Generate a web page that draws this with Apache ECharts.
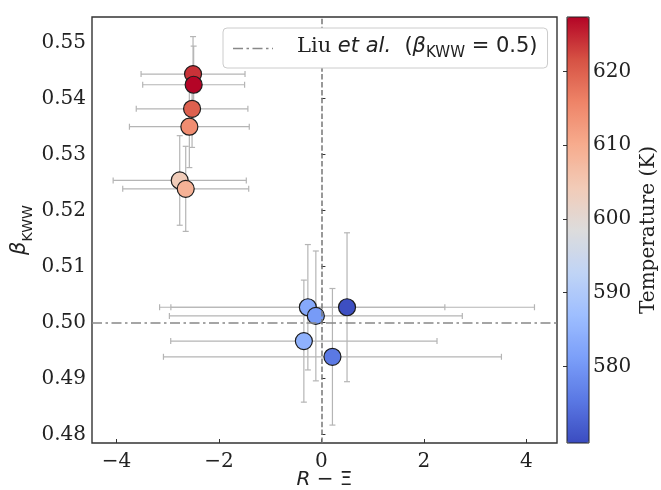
<!DOCTYPE html>
<html>
<head>
<meta charset="utf-8">
<script src="https://cdn.jsdelivr.net/npm/echarts@6/dist/echarts.min.js"></script>
<style>
html, body { margin: 0; padding: 0; background: #fff; }
#chart { width: 661px; height: 490px; }
</style>
</head>
<body>
<div id="chart"></div>
<script>
// values
const rXi = [-2.507, -2.495, -2.526, -2.579, -2.767, -2.65, -0.265, -0.109, 0.50, -0.343, 0.215];
const beta = [0.5444, 0.5425, 0.5382, 0.5350, 0.5254, 0.5239, 0.50275, 0.5012, 0.50275, 0.4967, 0.4939];
const rXiErr = [1.015, 0.995, 1.09, 1.17, 1.30, 1.23, 2.675, 2.86, 3.66, 2.6, 3.30];
const betaErr = [0.0067, 0.0069, 0.0069, 0.0073, 0.0080, 0.0076, 0.0112, 0.0116, 0.0133, 0.0109, 0.0122];
const temperature = [624, 627.4, 620, 614.5, 604, 609, 583, 580.5, 570, 584.5, 575.5];

const xTicks = [-4, -2, 0, 2, 4];
const yTicks = [0.48, 0.49, 0.50, 0.51, 0.52, 0.53, 0.54, 0.55];
const tempTicks = [580, 590, 600, 610, 620];
const liuBeta = 0.5;

const coolwarm = ['#3b4cc0', '#5a78e4', '#7b9ff9', '#9ebeff', '#c0d4f5', '#dddcdc',
  '#f2cbb7', '#f7ac8e', '#ee8468', '#d65244', '#b40426'];

const errData = rXi.map((x, i) => [x, beta[i], rXiErr[i], betaErr[i]]);
const ptData = rXi.map((x, i) => [x, beta[i], temperature[i]]);

const minus = v => String(v).replace('-', '\u2212');

function renderErrorBar(params, api) {
  const x = api.value(0), y = api.value(1), ex = api.value(2), ey = api.value(3);
  const l = api.coord([x - ex, y]);
  const r = api.coord([x + ex, y]);
  const t = api.coord([x, y + ey]);
  const b = api.coord([x, y - ey]);
  const cap = 3;
  const style = { stroke: '#b5b5b5', lineWidth: 1.2 };
  const seg = (x1, y1, x2, y2) => ({ type: 'line', shape: { x1, y1, x2, y2 }, style });
  return {
    type: 'group',
    children: [
      seg(l[0], l[1], r[0], r[1]),
      seg(l[0], l[1] - cap, l[0], l[1] + cap),
      seg(r[0], r[1] - cap, r[0], r[1] + cap),
      seg(t[0], t[1], b[0], b[1]),
      seg(t[0] - cap, t[1], t[0] + cap, t[1]),
      seg(b[0] - cap, b[1], b[0] + cap, b[1])
    ]
  };
}

var dom = document.getElementById('chart');
var myChart = echarts.init(dom, null, { renderer: 'canvas' });

const labelFont = { fontFamily: 'DejaVu Serif', fontSize: 20, color: '#222' };
const dashDot = [10, 3.5, 2.5, 3.5];
const legendRich = (extra) => Object.assign({ fontSize: 21, color: '#222', verticalAlign: 'bottom', padding: [0, 0, 4, 0] }, extra);

var option = {
  animation: false,
  backgroundColor: '#fff',
  grid: [
    { left: 92, top: 17, width: 465, height: 426, outerBoundsMode: 'none', containLabel: false,
      show: true, borderColor: '#333', borderWidth: 1.4, backgroundColor: 'transparent' },
    { left: 567, top: 17, width: 22, height: 426, outerBoundsMode: 'none', containLabel: false,
      show: true, borderColor: '#222', borderWidth: 1, backgroundColor: 'transparent', z: 10 }
  ],
  xAxis: [
    {
      type: 'value', gridIndex: 0, min: -4.48, max: 4.6,
      axisLine: { show: false },
      axisTick: { show: true, inside: true, length: 4, customValues: xTicks, lineStyle: { color: '#333' } },
      axisLabel: Object.assign({ customValues: xTicks, margin: 9, formatter: minus }, labelFont),
      splitLine: { show: false },
      name: '{r|R}{n| \u2212 \u039e}',
      nameLocation: 'middle', nameGap: 27, nameMoveOverlap: false,
      nameTextStyle: {
        rich: {
          r: { fontFamily: 'DejaVu Sans', fontStyle: 'italic', fontSize: 20, color: '#222' },
          n: { fontFamily: 'DejaVu Sans', fontSize: 20, color: '#222' }
        }
      }
    },
    { type: 'value', gridIndex: 1, min: 0, max: 1, show: false }
  ],
  yAxis: [
    {
      type: 'value', gridIndex: 0, min: 0.4785, max: 0.5546,
      axisLine: { show: false },
      axisTick: { show: true, inside: true, length: 4, customValues: yTicks, lineStyle: { color: '#333' } },
      axisLabel: Object.assign({ customValues: yTicks, margin: 6, formatter: v => v.toFixed(2) }, labelFont),
      splitLine: { show: false },
      name: '{b|\u03b2}{s|KWW}',
      nameLocation: 'middle', nameGap: 57, nameRotate: 90, nameMoveOverlap: false,
      nameTextStyle: {
        rich: {
          b: { fontFamily: 'DejaVu Sans', fontStyle: 'italic', fontSize: 21, color: '#222', verticalAlign: 'bottom', padding: [0, 0, 5, 0] },
          s: { fontFamily: 'DejaVu Sans', fontSize: 14, color: '#222', verticalAlign: 'bottom' }
        }
      }
    },
    {
      type: 'value', gridIndex: 1, position: 'right', min: 569.6, max: 627.4,
      axisLine: { show: false },
      axisTick: { show: true, inside: true, length: 4, customValues: tempTicks, lineStyle: { color: '#333' } },
      axisLabel: Object.assign({ customValues: tempTicks, margin: 4 }, labelFont),
      splitLine: { show: false },
      name: 'Temperature (K)',
      nameLocation: 'middle', nameGap: 50, nameRotate: 90,
      nameTextStyle: labelFont
    }
  ],
  visualMap: {
    type: 'continuous', min: 569.6, max: 627.4, dimension: 2, seriesIndex: 2,
    inRange: { color: coolwarm },
    calculable: false, hoverLink: false,
    itemWidth: 22, itemHeight: 426, left: 567, top: 17, padding: 0,
    orient: 'vertical'
  },
  legend: {
    left: 223, top: 28, z: 20,
    padding: [8, 10, 7, 10],
    backgroundColor: '#fff',
    borderColor: '#ccc', borderWidth: 1, borderRadius: 4,
    itemWidth: 40, itemHeight: 1.5,
    data: [{
      name: 'Liu',
      icon: 'path://M0 0h10v1.5h-10z M13.5 0h2.5v1.5h-2.5z M19.5 0h10v1.5h-10z M33 0h2.5v1.5h-2.5z M39 0h1v1.5h-1z',
      itemStyle: { color: '#888' }
    }],
    formatter: () => '{g| }{n|Liu }{i|et al.}{m|  (}{b|\u03b2}{s|KWW}{m| = 0.5)}',
    textStyle: {
      rich: {
        g: { width: 19 },
        n: legendRich({ fontFamily: 'DejaVu Serif' }),
        i: legendRich({ fontFamily: 'DejaVu Sans', fontStyle: 'italic' }),
        m: legendRich({ fontFamily: 'DejaVu Sans' }),
        b: legendRich({ fontFamily: 'DejaVu Sans', fontStyle: 'italic' }),
        s: { fontFamily: 'DejaVu Sans', fontSize: 15, color: '#222', verticalAlign: 'bottom' }
      }
    }
  },
  series: [
    {
      name: 'Liu', type: 'line', data: [], xAxisIndex: 0, yAxisIndex: 0, z: 1,
      symbol: 'none',
      lineStyle: { color: '#888', width: 1.5, type: dashDot },
      itemStyle: { color: '#888' },
      markLine: {
        silent: true, symbol: ['none', 'none'], label: { show: false },
        data: [
          { yAxis: liuBeta, lineStyle: { color: '#888', width: 1.5, type: dashDot } },
          { xAxis: 0, lineStyle: { color: '#777', width: 1.5, type: [5.5, 2.4] } }
        ]
      }
    },
    {
      name: 'err', type: 'custom', data: errData, xAxisIndex: 0, yAxisIndex: 0, z: 2,
      renderItem: renderErrorBar, encode: { x: 0, y: 1 }, silent: true
    },
    {
      name: 'pts', type: 'scatter', data: ptData, xAxisIndex: 0, yAxisIndex: 0, z: 3,
      symbolSize: 17,
      itemStyle: { borderColor: '#1c1c1c', borderWidth: 1.2, opacity: 1 }
    }
  ]
};

if (option && typeof option === 'object') {
  myChart.setOption(option);
}

window.addEventListener('resize', myChart.resize);
</script>
</body>
</html>
